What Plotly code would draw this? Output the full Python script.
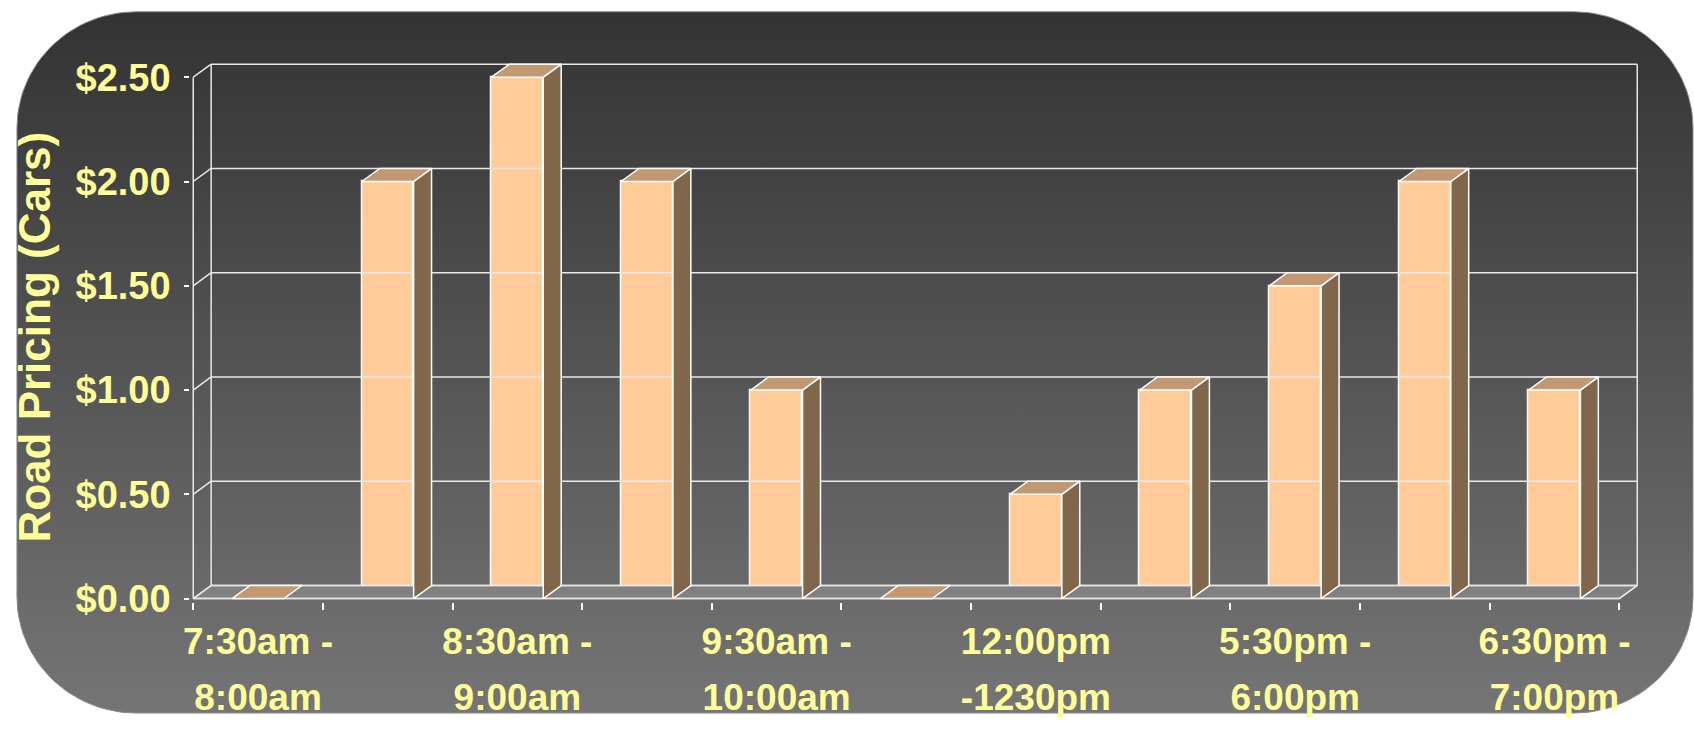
import numpy as np
import plotly.graph_objects as go

# ---------------- data ----------------
categories = ["7:30am - 8:00am", "8:00am - 8:30am", "8:30am - 9:00am", "9:00am - 9:30am",
              "9:30am - 10:00am", "10:00am - 12:00pm", "12:00pm -1230pm", "12:30pm - 5:30pm",
              "5:30pm - 6:00pm", "6:00pm - 6:30pm", "6:30pm - 7:00pm"]
prices = [0.0, 2.0, 2.5, 2.0, 1.0, 0.0, 0.5, 1.0, 1.5, 2.0, 1.0]
label_index = [0, 2, 4, 6, 8, 10]
label_line1 = ["7:30am -", "8:30am -", "9:30am -", "12:00pm", "5:30pm -", "6:30pm -"]
label_line2 = ["8:00am", "9:00am", "10:00am", "-1230pm", "6:00pm", "7:00pm"]
y_ticks = [0.0, 0.5, 1.0, 1.5, 2.0, 2.5]
y_title = "Road Pricing (Cars)"

# ---------------- styling / geometry ----------------
W, H = 1694, 733
FL, FR = 187.0, 1619.0          # front plane left/right (px)
Y0PX, YTOPPX = 613.0, 75.5      # front plane value 0 and value max (px)
DXPX, DYPX = 18.0, 13.5         # depth offset (px)
PAD = 3.0
YMAX = y_ticks[-1]
n = len(categories)
pxc = (FR - FL) / n
pxu = (Y0PX - YTOPPX) / YMAX
dxu = DXPX / pxc
dyu = DYPX / pxu
xlo, xhi = -0.5, n - 0.5
bar_w = 0.4

FRONT = "#FFCC99"
TOP = "#C29873"
SIDE = "#80664A"
GRID = "#E8E8E8"
TXT = "#FFFF99"
FONT = "Liberation Sans"

fig = go.Figure()

# ---------------- background rounded rectangle (subplot xy) ----------------
def rounded_rect(x0, y0, x1, y1, r, m=30):
    xs, ys = [], []
    for cx, cy, a0 in [(x1 - r, y0 + r, -np.pi / 2), (x1 - r, y1 - r, 0.0),
                       (x0 + r, y1 - r, np.pi / 2), (x0 + r, y0 + r, np.pi)]:
        t = np.linspace(a0, a0 + np.pi / 2, m)
        xs += list(cx + r * np.cos(t))
        ys += list(cy + r * np.sin(t))
    xs.append(xs[0]); ys.append(ys[0])
    return xs, ys

bx, by = rounded_rect(10, 8, 1693, 731, 120)
fig.add_trace(go.Scatter(x=bx, y=by, mode="lines", fill="toself",
                         line=dict(color="#8a8a8a", width=1),
                         fillgradient=dict(type="vertical",
                                           colorscale=[[0, "#333333"], [1, "#777777"]],
                                           start=8, stop=731),
                         hoverinfo="skip", showlegend=False, xaxis="x", yaxis="y"))

# ---------------- walls, floor, grid (subplot x2y2) ----------------
def seg_trace(xs, ys, color=GRID, width=1.5, fill=None, fillcolor=None):
    return go.Scatter(x=xs, y=ys, mode="lines", line=dict(color=color, width=width),
                      fill=fill, fillcolor=fillcolor, hoverinfo="skip",
                      showlegend=False, xaxis="x2", yaxis="y2")

# floor
fx = [xlo, xhi, xhi + dxu, xlo + dxu, xlo]
fy = [0, 0, dyu, dyu, 0]
fig.add_trace(seg_trace(fx, fy, fill="toself", fillcolor="rgba(128,128,128,1)"))

gx, gy = [], []
for v in y_ticks:
    gx += [xlo + dxu, xhi + dxu, None]          # back wall horizontal
    gy += [v + dyu, v + dyu, None]
    gx += [xlo, xlo + dxu, None]                # left wall diagonal
    gy += [v, v + dyu, None]
gx += [xlo + dxu, xlo + dxu, None, xhi + dxu, xhi + dxu, None]   # back wall verticals
gy += [dyu, YMAX + dyu, None, dyu, YMAX + dyu, None]
gx += [xlo, xlo, None, xlo, xhi, xhi + dxu, None]                 # front axes
gy += [0, YMAX, None, 0, 0, dyu, None]
fig.add_trace(seg_trace(gx, gy))

# ---------------- bars ----------------
idx = list(range(n))
fig.add_trace(go.Bar(x=idx, y=prices, width=bar_w,
                     marker=dict(color=FRONT, line=dict(color="white", width=1.5)),
                     hovertext=categories, showlegend=False, xaxis="x2", yaxis="y2"))

sx, sy, tx, ty = [], [], [], []
for i, v in zip(idx, prices):
    l, r = i - bar_w / 2, i + bar_w / 2
    if v > 0:
        sx += [r, r + dxu, r + dxu, r, r, None]
        sy += [0, dyu, v + dyu, v, 0, None]
    tx += [l, r, r + dxu, l + dxu, l, None]
    ty += [v, v, v + dyu, v + dyu, v, None]
fig.add_trace(seg_trace(sx, sy, color="white", width=1.5, fill="toself", fillcolor=SIDE))
fig.add_trace(seg_trace(tx, ty, color="white", width=1.5, fill="toself", fillcolor=TOP))

# ---------------- layout ----------------
xr = [xlo - PAD / pxc, xhi + (DXPX + PAD) / pxc]
yr = [-PAD / pxu, YMAX + (DYPX + PAD) / pxu]
xdom = [(FL - PAD) / W, (FR + DXPX + PAD) / W]
ydom = [1 - (Y0PX + PAD) / H, 1 - (YTOPPX - DYPX - PAD) / H]

tickfont = dict(family=FONT, size=38, color=TXT, weight="bold")
xfont = dict(family=FONT, size=37, color=TXT, weight="bold")

fig.update_layout(
    width=W, height=H, margin=dict(l=0, r=0, t=0, b=0),
    paper_bgcolor="white", plot_bgcolor="rgba(0,0,0,0)",
    bargap=0, showlegend=False,
    xaxis=dict(domain=[0, 1], range=[0, W], visible=False, fixedrange=True),
    yaxis=dict(domain=[0, 1], range=[H, 0], visible=False, fixedrange=True),
    xaxis2=dict(domain=xdom, range=xr, anchor="y2", showgrid=False, zeroline=False,
                showline=False, tickmode="array", tickvals=label_index, ticktext=label_line1,
                ticks="", tickfont=xfont, ticklabelstandoff=14),
    xaxis3=dict(overlaying="x2", anchor="y2", side="bottom", range=xr, showgrid=False,
                zeroline=False, showline=False, tickmode="array", tickvals=label_index,
                ticktext=label_line2, ticks="", tickfont=xfont, ticklabelstandoff=70),
    xaxis4=dict(overlaying="x2", anchor="y2", side="bottom", range=xr, showgrid=False,
                zeroline=False, showline=False, tickmode="array",
                tickvals=[k - 0.5 for k in range(n + 1)], showticklabels=False,
                ticks="outside", ticklen=7, tickwidth=1.5, tickcolor="white"),
    yaxis2=dict(domain=ydom, range=yr, anchor="x2", showgrid=False, zeroline=False,
                showline=False, tickmode="array", tickvals=y_ticks,
                ticktext=[f"${v:.2f}" for v in y_ticks], ticks="outside", ticklen=5,
                tickwidth=1.5, tickcolor="white", tickfont=tickfont, ticklabelstandoff=6),
    annotations=[dict(text=y_title, xref="paper", yref="paper", x=28 / W, y=1 - 343 / H,
                      xanchor="center", yanchor="middle", textangle=-90, showarrow=False,
                      font=dict(family=FONT, size=44, color=TXT, weight="bold"))],
)
# invisible helper traces so the overlaying axes x3/x4 are created
fig.add_trace(go.Scatter(x=[0], y=[0], mode="markers", marker=dict(opacity=0),
                         hoverinfo="skip", showlegend=False, xaxis="x3", yaxis="y2"))
fig.add_trace(go.Scatter(x=[0], y=[0], mode="markers", marker=dict(opacity=0),
                         hoverinfo="skip", showlegend=False, xaxis="x4", yaxis="y2"))

js = ("document.documentElement.style.margin='0';document.documentElement.style.padding='0';"
      "document.body.style.margin='0';document.body.style.padding='0';"
      "document.body.style.overflow='hidden';")
fig.write_html("out.html", post_script=js, config={"displayModeBar": False})
